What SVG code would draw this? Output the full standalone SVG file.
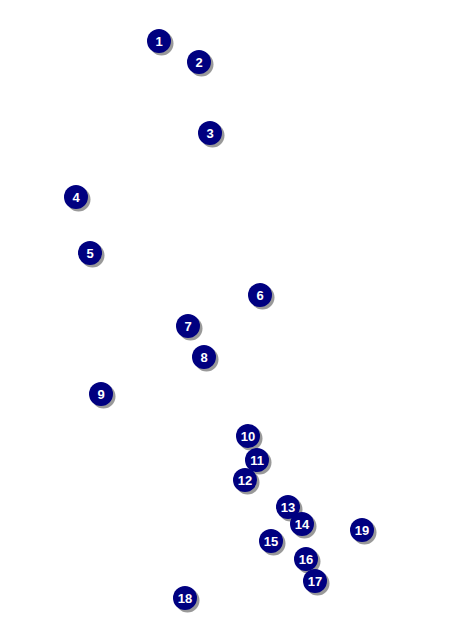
<svg xmlns="http://www.w3.org/2000/svg" width="468" height="636" viewBox="0 0 468 636">
<defs>
<style>
.sh{fill:#808080;opacity:0.8}
.c{fill:#000080}
.t{fill:#fff;font-family:"Liberation Sans",Arial,sans-serif;font-weight:bold;font-size:13px;text-anchor:middle;dominant-baseline:central}
</style>
<g id="dot"><circle class="sh" cx="2.5" cy="2.5" r="12"/><circle class="c" r="12"/></g>
</defs>
<rect width="468" height="636" fill="#fff"/>
<g id="connectors"></g>
<g id="n1" transform="translate(159,41)"><use href="#dot"/><text class="t">1</text></g>
<g id="n2" transform="translate(199,62)"><use href="#dot"/><text class="t">2</text></g>
<g id="n3" transform="translate(210,133)"><use href="#dot"/><text class="t">3</text></g>
<g id="n4" transform="translate(76,197)"><use href="#dot"/><text class="t">4</text></g>
<g id="n5" transform="translate(90,253)"><use href="#dot"/><text class="t">5</text></g>
<g id="n6" transform="translate(260,295)"><use href="#dot"/><text class="t">6</text></g>
<g id="n7" transform="translate(188,326)"><use href="#dot"/><text class="t">7</text></g>
<g id="n8" transform="translate(204,357)"><use href="#dot"/><text class="t">8</text></g>
<g id="n9" transform="translate(101,394)"><use href="#dot"/><text class="t">9</text></g>
<g id="n10" transform="translate(248,436)"><use href="#dot"/><text class="t">10</text></g>
<g id="n11" transform="translate(257,460)"><use href="#dot"/><text class="t">11</text></g>
<g id="n12" transform="translate(245,480)"><use href="#dot"/><text class="t">12</text></g>
<g id="n13" transform="translate(288,507)"><use href="#dot"/><text class="t">13</text></g>
<g id="n14" transform="translate(302,524)"><use href="#dot"/><text class="t">14</text></g>
<g id="n15" transform="translate(271,541)"><use href="#dot"/><text class="t">15</text></g>
<g id="n16" transform="translate(306,559)"><use href="#dot"/><text class="t">16</text></g>
<g id="n17" transform="translate(315,581)"><use href="#dot"/><text class="t">17</text></g>
<g id="n18" transform="translate(185,598)"><use href="#dot"/><text class="t">18</text></g>
<g id="n19" transform="translate(362,530)"><use href="#dot"/><text class="t">19</text></g>
</svg>
